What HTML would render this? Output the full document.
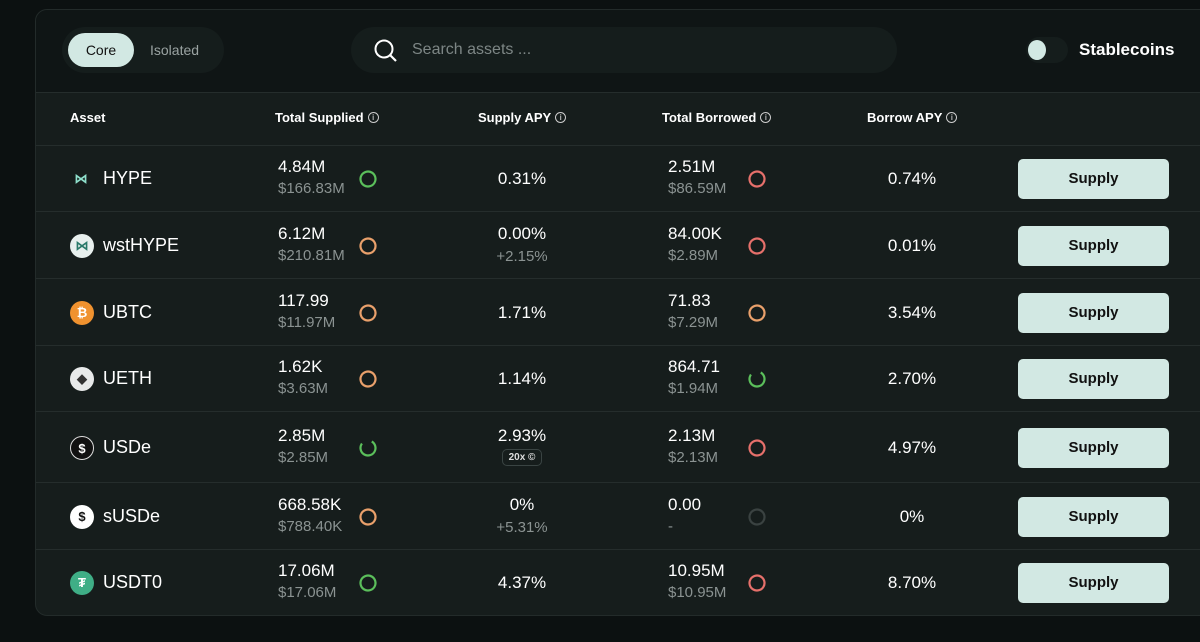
<!DOCTYPE html>
<html><head><meta charset="utf-8"><style>
*{box-sizing:border-box;margin:0;padding:0}
body{width:1200px;height:642px;background:#0c1111;font-family:"Liberation Sans",sans-serif;color:#fff;position:relative;overflow:hidden}
.card{position:absolute;left:35px;top:9px;width:1180px;height:607px;background:#161d1c;border:1px solid #232b2a;border-radius:12px;overflow:hidden}
.top{position:absolute;left:0;top:0;width:100%;height:83px;background:#0f1515;border-bottom:1px solid #252d2c}
.seg{position:absolute;left:26px;top:17px;width:162px;height:46px;border-radius:23px;background:#151d1c}
.seg .core{position:absolute;left:6px;top:6px;width:66px;height:34px;border-radius:17px;background:#d2e8e3;color:#111;font-size:14px;line-height:34px;text-align:center}
.seg .iso{position:absolute;left:88px;top:0;line-height:46px;font-size:14px;color:#9aa3a2}
.search{position:absolute;left:315px;top:17px;width:546px;height:46px;border-radius:23px;background:#151d1c}
.search span{position:absolute;left:61px;top:0;line-height:46px;font-size:16px;color:#7d8685}
.tog{position:absolute;left:990px;top:27px;width:42px;height:26px;border-radius:13px;background:#151d1c}
.tog i{position:absolute;left:2px;top:3px;width:18px;height:20px;border-radius:50%;background:#d2e8e3}
.stab{position:absolute;left:1043px;top:30px;font-size:17px;font-weight:bold;color:#fff}
.hdr{position:absolute;top:83px;left:0;width:100%;height:53px;border-bottom:1px solid #252d2c;font-size:13px;font-weight:bold}
.hdr div{position:absolute;top:0;line-height:50px}
.info{display:inline-block;width:11px;height:11px;border:1px solid #ccc;border-radius:50%;font-size:8px;line-height:9px;text-align:center;vertical-align:middle;margin-left:4px;margin-top:-3px;font-weight:normal}
.row{position:absolute;left:0;width:100%;border-bottom:1px solid #252d2c}
.row div{position:absolute}
.nm{left:67px;font-size:18px}
.v{font-size:17px}
.s{font-size:15px;color:#8b9392}
.btn{left:982px;width:151px;height:40px;border-radius:5px;background:#d2e8e3;color:#111;font-weight:bold;font-size:15px;line-height:40px;padding-top:3px;text-align:center}
.badge{border:1px solid #3a4443;border-radius:5px;font-size:10px;font-weight:bold;padding:2px 6px;color:#ddd}
</style></head><body>
<div class="card">
 <div class="top">
  <div class="seg">
   <div class="core">Core</div>
   <div class="iso">Isolated</div>
  </div>
  <div class="search">
   <svg style="position:absolute;left:22px;top:11px" width="26" height="26" viewBox="0 0 26 26"><circle cx="11" cy="11" r="8.5" fill="none" stroke="#fff" stroke-width="2"/><line x1="17" y1="17" x2="23" y2="23" stroke="#fff" stroke-width="2.2"/></svg>
   <span>Search assets ...</span>
  </div>
  <div class="tog"><i></i></div>
  <div class="stab">Stablecoins</div>
 </div>
 <div class="hdr">
  <div style="left:34px">Asset</div>
  <div style="left:239px">Total Supplied<span class="info">i</span></div>
  <div style="left:442px">Supply APY<span class="info">i</span></div>
  <div style="left:626px">Total Borrowed<span class="info">i</span></div>
  <div style="left:831px">Borrow APY<span class="info">i</span></div>
 </div>
 <div id="rows"></div>
</div>
<script>
const names=["HYPE","wstHYPE","UBTC","UETH","USDe","sUSDe","USDT0"];
const supplied=["4.84M","6.12M","117.99","1.62K","2.85M","668.58K","17.06M"];
const suppliedUsd=["$166.83M","$210.81M","$11.97M","$3.63M","$2.85M","$788.40K","$17.06M"];
const supplyApy=["0.31%","0.00%","1.71%","1.14%","2.93%","0%","4.37%"];
const supplyExtra=["","+2.15%","","","badge","+5.31%",""];
const borrowed=["2.51M","84.00K","71.83","864.71","2.13M","0.00","10.95M"];
const borrowedUsd=["$86.59M","$2.89M","$7.29M","$1.94M","$2.13M","-","$10.95M"];
const borrowApy=["0.74%","0.01%","3.54%","2.70%","4.97%","0%","8.70%"];
const supRing=["g","o","o","o","gp","o","g"];
const borRing=["r","r","o","gp","r","n","r"];
const rowH=[66,67,67,66,71,67,66];
const iconBg=["none","#e8f0ee","#f0922f","#e8eaea","#111","#fff","#3fae86"];
const col={g:"#5bbf5b",gp:"#5bbf5b",o:"#e9a06b",r:"#e6706b",n:"#3a4241"};
function ring(k){const d=k=="gp"?'stroke-dasharray="36 12"':'';return `<svg width="20" height="20"><circle cx="10" cy="10" r="7.5" fill="none" stroke="${col[k]}" stroke-width="2.2" ${d} transform="rotate(-60 10 10)"/></svg>`;}
const wrap=document.getElementById('rows');let y=136;
names.forEach((n,i)=>{
 const h=rowH[i];const c=h/2;
 const r=document.createElement('div');r.className='row';r.style.top=y+'px';r.style.height=h+'px';
 
 
 let ic=i==0?`<svg width="22" height="22"><text x="11" y="16" font-size="13" text-anchor="middle" fill="#8fe0cc" font-weight="bold">⋈</text></svg>`:
  `<div style="position:relative;width:24px;height:24px;border-radius:50%;background:${iconBg[i]};border:${i==4?'1.5px solid #ddd':'none'};color:${i==5?'#111':(i==1?'#2a7a6a':(i==3?'#333':'#fff'))};font-size:13px;font-weight:bold;text-align:center;line-height:24px">${["","⋈","₿","◆","$","$","₮"][i]}</div>`;
 const ext=supplyExtra[i]=="badge"?`<div style="position:relative;top:0;margin-top:3px;display:inline-block" class="badge">20x ©</div>`:(supplyExtra[i]?`<div class="s" style="position:relative;margin-top:4px">${supplyExtra[i]}</div>`:'');
 const ap=supplyExtra[i]?c-22:c-10;
 r.innerHTML=`<div style="left:34px;top:${c-12}px">${ic}</div>
 <div class="nm" style="top:${c-11}px">${n}</div>
 <div style="left:242px;top:${c-22}px"><div class="v" style="position:relative">${supplied[i]}</div><div class="s" style="position:relative;margin-top:3px">${suppliedUsd[i]}</div></div>
 <div style="left:322px;top:${c-10}px">${ring(supRing[i])}</div>
 <div style="left:406px;width:160px;text-align:center;top:${ap}px"><div class="v" style="position:relative">${supplyApy[i]}</div>${ext}</div>
 <div style="left:632px;top:${c-22}px"><div class="v" style="position:relative">${borrowed[i]}</div><div class="s" style="position:relative;margin-top:3px">${borrowedUsd[i]}</div></div>
 <div style="left:711px;top:${c-10}px">${ring(borRing[i])}</div>
 <div class="v" style="left:796px;width:160px;text-align:center;top:${c-10}px">${borrowApy[i]}</div>
 <div class="btn" style="top:${c-20}px;line-height:34px">Supply</div>`;
 wrap.appendChild(r);
 r.querySelector('.btn');
 r.querySelector('.btn');
 y+=h;
});
</script>
</body></html>
